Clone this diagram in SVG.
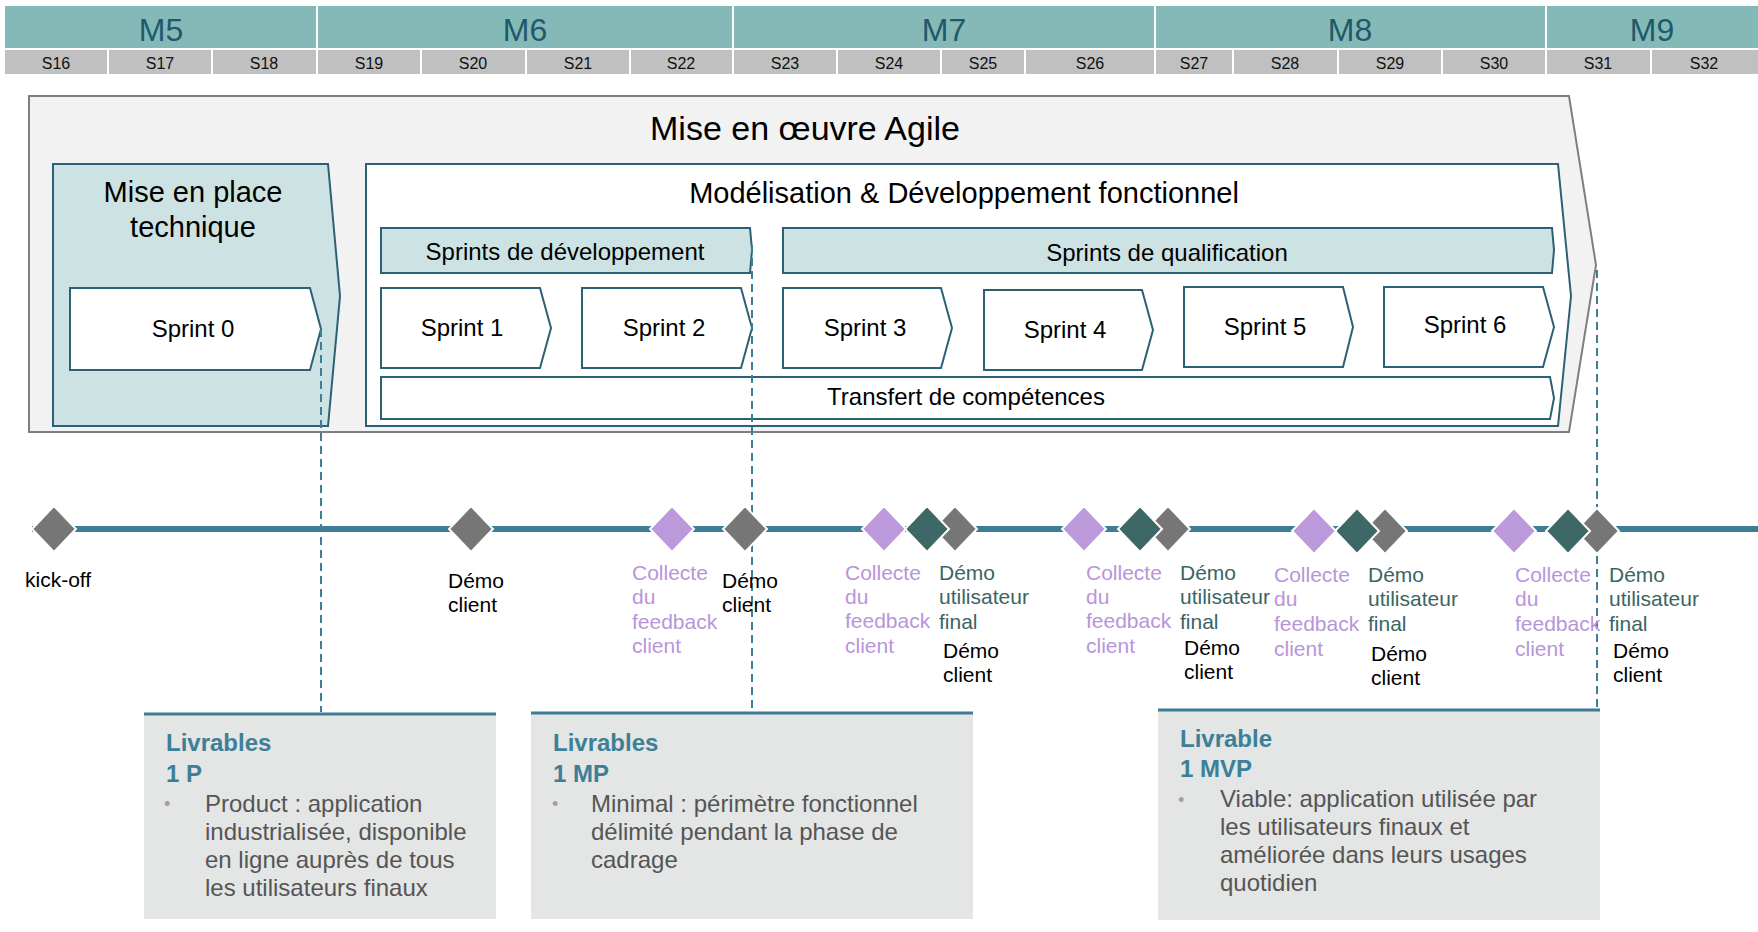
<svg xmlns="http://www.w3.org/2000/svg" xmlns:xlink="http://www.w3.org/1999/xlink" width="1758" height="932" viewBox="0 0 1758 932">
<style>
text{font-family:"Liberation Sans",Arial,sans-serif}
.mcell{fill:#84B9B7}
.scell{fill:#C0C0C0}
.mtxt{font-size:32px;fill:#1F5A6B;text-anchor:middle}
.stxt{font-size:16px;fill:#111;text-anchor:middle}
.box{stroke:#2C6175;stroke-width:2}
.lt{fill:#CDE3E3}
.wh{fill:#FFFFFF}
.lbl{fill:#000;text-anchor:middle}
.tl{font-size:21px}
.blk{fill:#000}
.pur{fill:#B895DA}
.dtl{fill:#3A6565}
.dg{fill:#767676;stroke:#fff;stroke-width:2}
.dp{fill:#BC99DB;stroke:#fff;stroke-width:2}
.dd{fill:#3D6866;stroke:#fff;stroke-width:2}
.dash{stroke:#3E7D96;stroke-width:2;stroke-dasharray:8 5;fill:none}
.card{fill:#E4E5E5}
.cardtop{stroke:#3E7D96;stroke-width:3}
.ctitle{font-size:24px;font-weight:bold;fill:#3C7F96}
.ctxt{font-size:24px;fill:#555}
.bul{font-size:18px;fill:#A0A0A0}
</style>
<defs>
<polygon id="dia" points="0,-23 22,0 0,23 -22,0"/>
<filter id="sh" x="-5%" y="-200%" width="110%" height="500%">
<feGaussianBlur stdDeviation="3"/>
</filter>
</defs>
<rect width="1758" height="932" fill="#FFFFFF"/>

<g id="header">
<rect class="mcell" x="5" y="6" width="311" height="42"/>
<rect class="mcell" x="318" y="6" width="414" height="42"/>
<rect class="mcell" x="734" y="6" width="420" height="42"/>
<rect class="mcell" x="1156" y="6" width="389" height="42"/>
<rect class="mcell" x="1547" y="6" width="211" height="42"/>
<text class="mtxt" x="161" y="41">M5</text>
<text class="mtxt" x="525" y="41">M6</text>
<text class="mtxt" x="944" y="41">M7</text>
<text class="mtxt" x="1350" y="41">M8</text>
<text class="mtxt" x="1652" y="41">M9</text>
<rect class="scell" x="5" y="50" width="102" height="24"/>
<rect class="scell" x="109" y="50" width="102" height="24"/>
<rect class="scell" x="213" y="50" width="103" height="24"/>
<rect class="scell" x="318" y="50" width="102" height="24"/>
<rect class="scell" x="422" y="50" width="103" height="24"/>
<rect class="scell" x="527" y="50" width="102" height="24"/>
<rect class="scell" x="631" y="50" width="101" height="24"/>
<rect class="scell" x="734" y="50" width="102" height="24"/>
<rect class="scell" x="838" y="50" width="102" height="24"/>
<rect class="scell" x="942" y="50" width="82" height="24"/>
<rect class="scell" x="1026" y="50" width="128" height="24"/>
<rect class="scell" x="1156" y="50" width="76" height="24"/>
<rect class="scell" x="1234" y="50" width="103" height="24"/>
<rect class="scell" x="1339" y="50" width="102" height="24"/>
<rect class="scell" x="1443" y="50" width="102" height="24"/>
<rect class="scell" x="1547" y="50" width="103" height="24"/>
<rect class="scell" x="1652" y="50" width="106" height="24"/>
<text class="stxt" x="56" y="69">S16</text>
<text class="stxt" x="160" y="69">S17</text>
<text class="stxt" x="264" y="69">S18</text>
<text class="stxt" x="369" y="69">S19</text>
<text class="stxt" x="473" y="69">S20</text>
<text class="stxt" x="578" y="69">S21</text>
<text class="stxt" x="681" y="69">S22</text>
<text class="stxt" x="785" y="69">S23</text>
<text class="stxt" x="889" y="69">S24</text>
<text class="stxt" x="983" y="69">S25</text>
<text class="stxt" x="1090" y="69">S26</text>
<text class="stxt" x="1194" y="69">S27</text>
<text class="stxt" x="1285" y="69">S28</text>
<text class="stxt" x="1390" y="69">S29</text>
<text class="stxt" x="1494" y="69">S30</text>
<text class="stxt" x="1598" y="69">S31</text>
<text class="stxt" x="1704" y="69">S32</text>
</g>

<g id="mise-en-oeuvre-agile">
<polygon points="29,96 1569,96 1596,265 1569,432 29,432" fill="#F2F2F2" stroke="#7F7F7F" stroke-width="2"/>
<text class="lbl" x="805" y="140" font-size="34">Mise en œuvre Agile</text>
</g>

<g id="mise-en-place-technique">
<polygon class="box lt" points="53,164 328,164 340,296 328,426 53,426"/>
<text class="lbl" x="193" y="202" font-size="29">Mise en place</text>
<text class="lbl" x="193" y="237" font-size="29">technique</text>
</g>

<g id="sprint-0">
<polygon class="box wh" points="70,288 310,288 321,329 310,370 70,370"/>
<text class="lbl" x="193" y="337" font-size="24">Sprint 0</text>
</g>

<g id="modelisation">
<polygon class="box wh" points="366,164 1558,164 1571,296 1558,426 366,426"/>
<text class="lbl" x="964" y="203" font-size="29">Modélisation &amp; Développement fonctionnel</text>
</g>

<g id="sprints-developpement">
<polygon class="box lt" points="381,228 750,228 752,250 750,273 381,273"/>
<text class="lbl" x="565" y="260" font-size="24">Sprints de développement</text>
</g>

<g id="sprints-qualification">
<polygon class="box lt" points="783,228 1552,228 1554,250 1552,273 783,273"/>
<text class="lbl" x="1167" y="261" font-size="24">Sprints de qualification</text>
</g>

<g id="sprint-1">
<polygon class="box wh" points="381,288 540,288 551,328 540,368 381,368"/>
<text class="lbl" x="462" y="336" font-size="24">Sprint 1</text>
</g>
<g id="sprint-2">
<polygon class="box wh" points="582,288 741,288 752,328 741,368 582,368"/>
<text class="lbl" x="664" y="336" font-size="24">Sprint 2</text>
</g>
<g id="sprint-3">
<polygon class="box wh" points="783,288 941,288 952,328 941,368 783,368"/>
<text class="lbl" x="865" y="336" font-size="24">Sprint 3</text>
</g>
<g id="sprint-4">
<polygon class="box wh" points="984,290 1142,290 1153,330 1142,370 984,370"/>
<text class="lbl" x="1065" y="338" font-size="24">Sprint 4</text>
</g>
<g id="sprint-5">
<polygon class="box wh" points="1184,287 1343,287 1353,327 1343,367 1184,367"/>
<text class="lbl" x="1265" y="335" font-size="24">Sprint 5</text>
</g>
<g id="sprint-6">
<polygon class="box wh" points="1384,287 1543,287 1554,327 1543,367 1384,367"/>
<text class="lbl" x="1465" y="333" font-size="24">Sprint 6</text>
</g>

<g id="transfert-competences">
<polygon class="box wh" points="381,377 1550,377 1554,398 1550,419 381,419"/>
<text class="lbl" x="966" y="405" font-size="24">Transfert de compétences</text>
</g>

<g id="timeline">
<line x1="48" y1="536" x2="1758" y2="536" stroke="#000" stroke-opacity="0.35" stroke-width="6" filter="url(#sh)"/>
<line x1="32" y1="529" x2="1758" y2="529" stroke="#3E7D96" stroke-width="6"/>
</g>

<g id="connectors">
<line class="dash" x1="321" y1="329" x2="321" y2="712"/>
<line class="dash" x1="752" y1="245" x2="752" y2="711"/>
<line class="dash" x1="1597" y1="270" x2="1597" y2="709"/>
</g>

<g id="m-kickoff">
<use xlink:href="#dia" href="#dia" x="54" y="529" class="dg"/>
<text class="tl blk" x="25" y="587">kick-off</text>
</g>
<g id="m-demo-1">
<use xlink:href="#dia" href="#dia" x="471" y="529" class="dg"/>
<text class="tl blk" x="448" y="588">Démo</text>
<text class="tl blk" x="448" y="612">client</text>
</g>
<g id="m-feedback-1">
<use xlink:href="#dia" href="#dia" x="672" y="529" class="dp"/>
<text class="tl pur" x="632" y="580">Collecte</text>
<text class="tl pur" x="632" y="604">du</text>
<text class="tl pur" x="632" y="629">feedback</text>
<text class="tl pur" x="632" y="653">client</text>
</g>
<g id="m-demo-2">
<use xlink:href="#dia" href="#dia" x="745" y="529" class="dg"/>
<text class="tl blk" x="722" y="588">Démo</text>
<text class="tl blk" x="722" y="612">client</text>
</g>

<g id="m-group-1">
<use xlink:href="#dia" href="#dia" x="955" y="529" class="dg"/>
<use xlink:href="#dia" href="#dia" x="927" y="529" class="dd"/>
<use xlink:href="#dia" href="#dia" x="884" y="529" class="dp"/>
<text class="tl pur" x="845" y="580">Collecte</text>
<text class="tl pur" x="845" y="604">du</text>
<text class="tl pur" x="845" y="628">feedback</text>
<text class="tl pur" x="845" y="653">client</text>
<text class="tl dtl" x="939" y="580">Démo</text>
<text class="tl dtl" x="939" y="604">utilisateur</text>
<text class="tl dtl" x="939" y="629">final</text>
<text class="tl blk" x="943" y="658">Démo</text>
<text class="tl blk" x="943" y="682">client</text>
</g>

<g id="m-group-2">
<use xlink:href="#dia" href="#dia" x="1168" y="529" class="dg"/>
<use xlink:href="#dia" href="#dia" x="1140" y="529" class="dd"/>
<use xlink:href="#dia" href="#dia" x="1084" y="529" class="dp"/>
<text class="tl pur" x="1086" y="580">Collecte</text>
<text class="tl pur" x="1086" y="604">du</text>
<text class="tl pur" x="1086" y="628">feedback</text>
<text class="tl pur" x="1086" y="653">client</text>
<text class="tl dtl" x="1180" y="580">Démo</text>
<text class="tl dtl" x="1180" y="604">utilisateur</text>
<text class="tl dtl" x="1180" y="629">final</text>
<text class="tl blk" x="1184" y="655">Démo</text>
<text class="tl blk" x="1184" y="679">client</text>
</g>

<g id="m-group-3">
<use xlink:href="#dia" href="#dia" x="1385" y="531" class="dg"/>
<use xlink:href="#dia" href="#dia" x="1357" y="531" class="dd"/>
<use xlink:href="#dia" href="#dia" x="1314" y="531" class="dp"/>
<text class="tl pur" x="1274" y="582">Collecte</text>
<text class="tl pur" x="1274" y="606">du</text>
<text class="tl pur" x="1274" y="631">feedback</text>
<text class="tl pur" x="1274" y="656">client</text>
<text class="tl dtl" x="1368" y="582">Démo</text>
<text class="tl dtl" x="1368" y="606">utilisateur</text>
<text class="tl dtl" x="1368" y="631">final</text>
<text class="tl blk" x="1371" y="661">Démo</text>
<text class="tl blk" x="1371" y="685">client</text>
</g>

<g id="m-group-4">
<use xlink:href="#dia" href="#dia" x="1597" y="531" class="dg"/>
<use xlink:href="#dia" href="#dia" x="1568" y="531" class="dd"/>
<use xlink:href="#dia" href="#dia" x="1514" y="531" class="dp"/>
<text class="tl pur" x="1515" y="582">Collecte</text>
<text class="tl pur" x="1515" y="606">du</text>
<text class="tl pur" x="1515" y="631">feedback</text>
<text class="tl pur" x="1515" y="656">client</text>
<text class="tl dtl" x="1609" y="582">Démo</text>
<text class="tl dtl" x="1609" y="606">utilisateur</text>
<text class="tl dtl" x="1609" y="631">final</text>
<text class="tl blk" x="1613" y="658">Démo</text>
<text class="tl blk" x="1613" y="682">client</text>
</g>

<g id="livrables-1p">
<rect class="card" x="144" y="713" width="352" height="206"/>
<line class="cardtop" x1="144" y1="714" x2="496" y2="714"/>
<text class="ctitle" x="166" y="751">Livrables</text>
<text class="ctitle" x="166" y="782">1 P</text>
<text class="bul" x="164" y="810">•</text>
<text class="ctxt" x="205" y="812">Product : application</text>
<text class="ctxt" x="205" y="840">industrialisée, disponible</text>
<text class="ctxt" x="205" y="868">en ligne auprès de tous</text>
<text class="ctxt" x="205" y="896">les utilisateurs finaux</text>
</g>

<g id="livrables-1mp">
<rect class="card" x="531" y="712" width="442" height="207"/>
<line class="cardtop" x1="531" y1="713" x2="973" y2="713"/>
<text class="ctitle" x="553" y="751">Livrables</text>
<text class="ctitle" x="553" y="782">1 MP</text>
<text class="bul" x="552" y="810">•</text>
<text class="ctxt" x="591" y="812">Minimal : périmètre fonctionnel</text>
<text class="ctxt" x="591" y="840">délimité pendant la phase de</text>
<text class="ctxt" x="591" y="868">cadrage</text>
</g>

<g id="livrable-1mvp">
<rect class="card" x="1158" y="709" width="442" height="211"/>
<line class="cardtop" x1="1158" y1="710" x2="1600" y2="710"/>
<text class="ctitle" x="1180" y="747">Livrable</text>
<text class="ctitle" x="1180" y="777">1 MVP</text>
<text class="bul" x="1178" y="806">•</text>
<text class="ctxt" x="1220" y="807">Viable: application utilisée par</text>
<text class="ctxt" x="1220" y="835">les utilisateurs finaux et</text>
<text class="ctxt" x="1220" y="863">améliorée dans leurs usages</text>
<text class="ctxt" x="1220" y="891">quotidien</text>
</g>
</svg>
